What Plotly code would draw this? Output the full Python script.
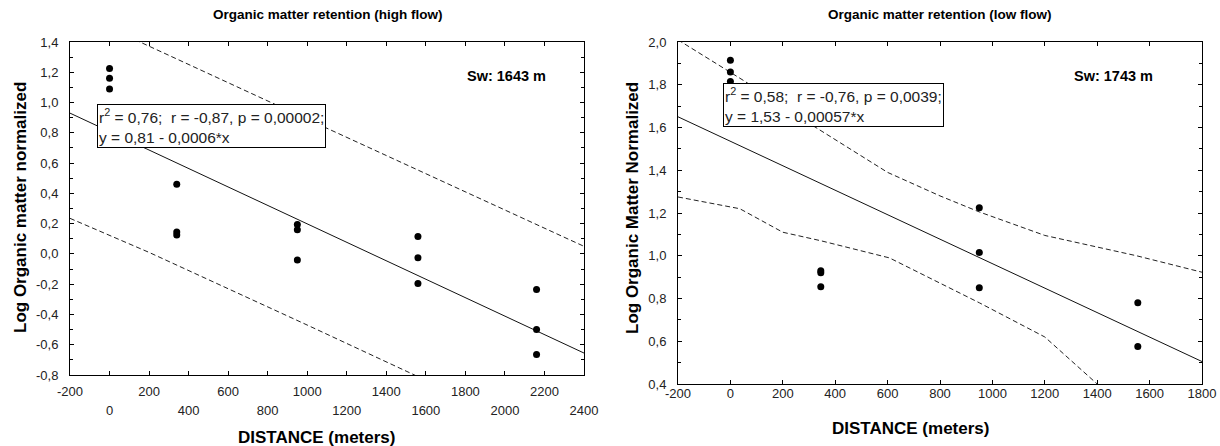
import plotly.graph_objects as go

# ---------------- data ----------------
# High flow panel
hf_x = [0, 0, 0, 340, 340, 340, 950, 950, 950, 1560, 1560, 1560, 2160, 2160, 2160]
hf_y = [1.225, 1.16, 1.09, 0.46, 0.145, 0.125, 0.195, 0.16, -0.04,
        0.115, -0.025, -0.195, -0.235, -0.5, -0.665]
hf_fit_x = [-200, 2400]
hf_fit_y = [0.93, -0.655]
hf_upper_x = [-200, 154, 1000, 2400]
hf_upper_y = [1.62, 1.40, 0.89, 0.05]
hf_lower_x = [-200, 200, 1000, 1545, 1600]
hf_lower_y = [0.235, 0.01, -0.47, -0.80, -0.835]

# Low flow panel
lf_x = [0, 0, 0, 345, 345, 345, 950, 950, 950, 1555, 1555]
lf_y = [1.915, 1.86, 1.815, 0.93, 0.92, 0.855, 1.225, 1.015, 0.85, 0.78, 0.575]
lf_fit_x = [-200, 1800]
lf_fit_y = [1.65, 0.505]
lf_upper_x = [-200, 50, 300, 600, 800, 950, 1200, 1550, 1800]
lf_upper_y = [2.01, 1.82, 1.62, 1.39, 1.28, 1.205, 1.095, 1.0, 0.923]
lf_lower_x = [-200, 36, 200, 346, 607, 800, 950, 1200, 1400, 1500]
lf_lower_y = [1.275, 1.22, 1.11, 1.07, 0.99, 0.87, 0.78, 0.62, 0.40, 0.30]

hf_xticks = list(range(-200, 2401, 200))
lf_xticks = list(range(-200, 1801, 200))
hf_yticks = [-0.8, -0.6, -0.4, -0.2, 0.0, 0.2, 0.4, 0.6, 0.8, 1.0, 1.2, 1.4]
lf_yticks = [0.4, 0.6, 0.8, 1.0, 1.2, 1.4, 1.6, 1.8, 2.0]

titles = ["Organic matter retention (high flow)", "Organic matter retention (low flow)"]
ytitles = ["Log Organic matter normalized", "Log Organic Matter Normalized"]
xtitle = "DISTANCE (meters)"
sw_labels = ["Sw: 1643 m", "Sw: 1743 m"]
stat_texts = [
    "r<sup>2</sup> = 0,76;&nbsp; r = -0,87, p = 0,00002;<br>y = 0,81 - 0,0006*x",
    "r<sup>2</sup> = 0,58;&nbsp; r = -0,76, p = 0,0039;<br>y = 1,53 - 0,00057*x",
]

# ---------------- layout geometry ----------------
W, H = 1220, 446
FONT = "Liberation Sans, Arial, sans-serif"


def px(x):
    return x / W


def py(y):
    return 1 - y / H


# plot areas in pixels: (left, right, top, bottom)
P1 = (70, 584, 42, 375)
P2 = (678, 1202, 42, 384)


def comma(v):
    return f"{v:.1f}".replace(".", ",")


fig = go.Figure()

dash = dict(color="#222", width=1, dash="5px,3px")
solid = dict(color="#111", width=1)
mk = dict(color="black", size=7, symbol="circle")

# Panel 1
fig.add_trace(go.Scatter(x=hf_upper_x, y=hf_upper_y, mode="lines", line=dash, xaxis="x", yaxis="y"))
fig.add_trace(go.Scatter(x=hf_lower_x, y=hf_lower_y, mode="lines", line=dash, xaxis="x", yaxis="y"))
fig.add_trace(go.Scatter(x=hf_fit_x, y=hf_fit_y, mode="lines", line=solid, xaxis="x", yaxis="y"))
fig.add_trace(go.Scatter(x=hf_x, y=hf_y, mode="markers", marker=mk, xaxis="x", yaxis="y", cliponaxis=False))
# carrier for the second (staggered) row of tick labels
fig.add_trace(go.Scatter(x=[], y=[], mode="markers", xaxis="x3", yaxis="y", hoverinfo="skip"))

# Panel 2
fig.add_trace(go.Scatter(x=lf_upper_x, y=lf_upper_y, mode="lines", line=dash, xaxis="x2", yaxis="y2"))
fig.add_trace(go.Scatter(x=lf_lower_x, y=lf_lower_y, mode="lines", line=dash, xaxis="x2", yaxis="y2"))
fig.add_trace(go.Scatter(x=lf_fit_x, y=lf_fit_y, mode="lines", line=solid, xaxis="x2", yaxis="y2"))
fig.add_trace(go.Scatter(x=lf_x, y=lf_y, mode="markers", marker=mk, xaxis="x2", yaxis="y2", cliponaxis=False))

tickfont = dict(family=FONT, size=13, color="#222")

common_axis = dict(
    showline=True, linecolor="black", linewidth=1, mirror="ticks",
    ticks="inside", ticklen=4, tickcolor="black", tickwidth=1,
    showgrid=False, zeroline=False, tickfont=tickfont, fixedrange=True,
    automargin=False,
)

hf_row1 = [v for i, v in enumerate(hf_xticks) if i % 2 == 0]
hf_row2 = [v for i, v in enumerate(hf_xticks) if i % 2 == 1]


def minor_vals(lo, hi):
    out = []
    v = lo + 0.1
    while v < hi - 1e-9:
        out.append(round(v, 2))
        v += 0.2
    return out


fig.update_layout(
    template="none",
    width=W, height=H,
    margin=dict(l=0, r=0, t=0, b=0),
    paper_bgcolor="white", plot_bgcolor="white",
    showlegend=False,
    xaxis=dict(common_axis, domain=[px(P1[0]), px(P1[1])], range=[-200, 2400], anchor="y",
               tickmode="array", tickvals=hf_row1, ticktext=[str(v) for v in hf_row1],
               ticklabelstandoff=4),
    xaxis3=dict(common_axis, domain=[px(P1[0]), px(P1[1])], range=[-200, 2400], anchor="y",
                overlaying="x", side="bottom",
                tickmode="array", tickvals=hf_row2, ticktext=[str(v) for v in hf_row2],
                ticklabelstandoff=23),
    yaxis=dict(common_axis, domain=[py(P1[3]), py(P1[2])], range=[-0.8, 1.4], anchor="x",
               tickmode="array", tickvals=hf_yticks, ticktext=[comma(v) for v in hf_yticks],
               ticklabelstandoff=8,
               minor=dict(tickmode="array", tickvals=minor_vals(-0.8, 1.4), ticks="inside",
                          ticklen=3, tickcolor="black", showgrid=False)),
    xaxis2=dict(common_axis, domain=[px(P2[0]), px(P2[1])], range=[-200, 1800], anchor="y2",
                tickmode="array", tickvals=lf_xticks, ticktext=[str(v) for v in lf_xticks],
                ticklabelstandoff=-3),
    yaxis2=dict(common_axis, domain=[py(P2[3]), py(P2[2])], range=[0.4, 2.0], anchor="x2",
                tickmode="array", tickvals=lf_yticks, ticktext=[comma(v) for v in lf_yticks],
                ticklabelstandoff=8,
                minor=dict(tickmode="array", tickvals=minor_vals(0.4, 2.0), ticks="inside",
                           ticklen=3, tickcolor="black", showgrid=False)),
)

ann = []
titlefont = dict(family=FONT, size=13.5, color="black")
axfont = dict(family=FONT, size=17, color="black")
yfont = dict(family=FONT, size=17, color="black")
title_cx = [328, 940]
xt_cx = [316, 910]
xt_cy = [437, 428]
yt_cx = [20, 632]
for i, P in enumerate([P1, P2]):
    ann.append(dict(text="<b>" + titles[i] + "</b>", x=px(title_cx[i]), y=py(15), xref="paper",
                    yref="paper", showarrow=False, font=titlefont, xanchor="center", yanchor="middle"))
    ann.append(dict(text="<b>" + ytitles[i] + "</b>", x=px(yt_cx[i]), y=py(208), xref="paper",
                    yref="paper", showarrow=False, font=yfont, textangle=-90,
                    xanchor="center", yanchor="middle"))
    ann.append(dict(text="<b>" + xtitle + "</b>", x=px(xt_cx[i]), y=py(xt_cy[i]), xref="paper",
                    yref="paper", showarrow=False, font=axfont, xanchor="center", yanchor="middle"))
    ann.append(dict(text="<b>" + sw_labels[i] + "</b>", x=px([506, 1113][i]), y=py(76), xref="paper",
                    yref="paper", showarrow=False, font=dict(family=FONT, size=14.5, color="black"),
                    xanchor="center", yanchor="middle"))
    ann.append(dict(text=stat_texts[i], x=px([97, 723][i]), y=py([104, 83][i]), xref="paper",
                    yref="paper", showarrow=False, align="left", xanchor="left", yanchor="top",
                    font=dict(family=FONT, size=15.5, color="#222"), bgcolor="white",
                    bordercolor="black", borderwidth=1, borderpad=1))
fig.update_layout(annotations=ann)

fig.write_html("out.html", config={"displayModeBar": False},
               post_script="document.body.style.margin='0px';")
